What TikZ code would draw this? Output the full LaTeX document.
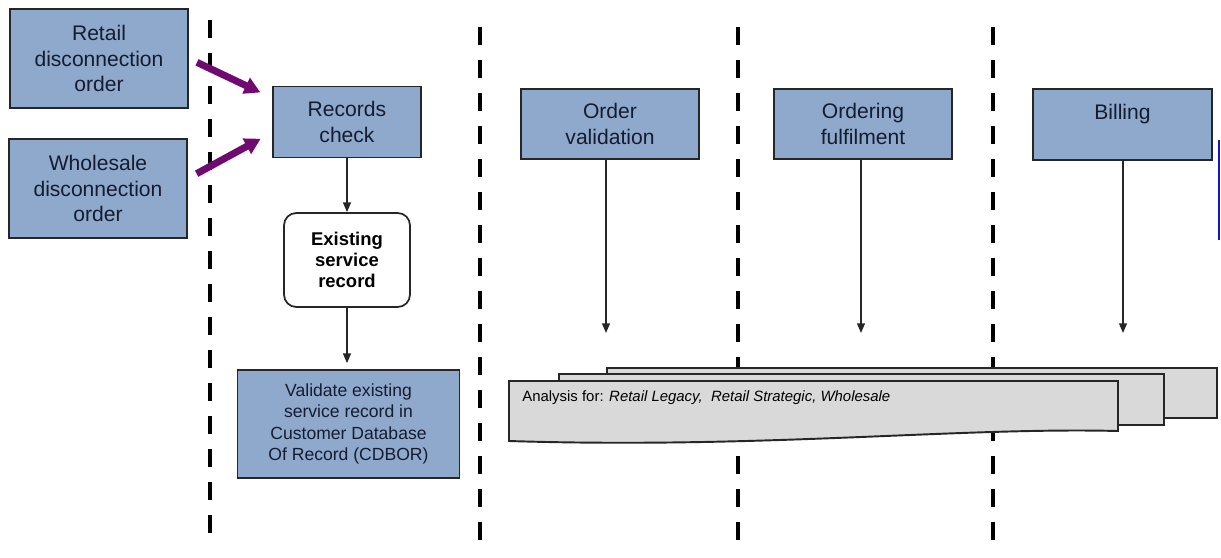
\documentclass[tikz,border=0pt]{standalone}
\usepackage{fontspec}
\setmainfont{Liberation Sans}
\usetikzlibrary{arrows.meta,positioning}
\definecolor{boxblue}{RGB}{142,169,203}
\definecolor{boxtext}{RGB}{22,28,48}
\definecolor{docgray}{RGB}{217,217,217}
\definecolor{flowpurple}{RGB}{112,10,112}
\definecolor{edgeblue}{RGB}{20,20,210}
\tikzset{>={Triangle[length=5.5pt,width=4.5pt]},
  stage/.style={draw=black!85, line width=1pt, fill=boxblue, text=boxtext,
    align=center, inner sep=0pt, font=\fontsize{12}{14.6}\selectfont},
  recordbox/.style={draw=black!85, line width=1pt, rounded corners=7pt,
    align=center, inner sep=0pt, font=\fontsize{10.5}{11.8}\selectfont\bfseries},
  flow/.style={->, line width=0.8pt, black!85},
  inflow/.style={-{Triangle[length=9pt,width=9.5pt]}, line width=4pt, flowpurple},
  lane/.style={line width=0.09cm, dash pattern=on 0.37cm off 0.29cm},
  doc/.style={draw=black!85, line width=1.1pt, fill=docgray}}

\begin{document}
\begin{tikzpicture}[x=0.02cm, y=-0.02cm]
  \useasboundingbox (0,0) rectangle (1221,558);

  % swim lanes
  \foreach \x/\ya/\yb in {210/20/545, 480/27/551, 738/27/551, 993/27/551}
    \draw [lane] (\x,\ya) -- (\x,\yb);

  % incoming orders
  \node [stage, minimum width=3.56cm, minimum height=1.98cm] (retail) at (99,58.5)
    {Retail\\disconnection\\order};
  \node [stage, minimum width=3.56cm, minimum height=1.98cm] (wholesale) at (98,188.5)
    {Wholesale\\disconnection\\order};

  % records check column
  \node [stage, minimum width=2.96cm, minimum height=1.42cm] (records) at (347,122)
    {Records\\check};
  \node [recordbox, minimum width=2.52cm, minimum height=1.88cm] (existing) at (347,260)
    {Existing\\service\\record};
  \node [stage, minimum width=4.44cm, minimum height=2.16cm,
    font=\fontsize{10}{12.3}\selectfont] (validate) at (348.5,424)
    {Validate existing\\service record in\\Customer Database\\Of Record (CDBOR)};

  \draw [inflow, shorten <=9*0.02cm, shorten >=13*0.02cm]
    (retail.east) -- ([yshift=0.48cm]records.west);
  \draw [inflow, shorten <=10*0.02cm, shorten >=13*0.02cm]
    ([yshift=0.2cm]wholesale.east) -- ([yshift=-0.21cm]records.west);

  \draw [flow] (records.south) -- (existing.north);
  \draw [flow, shorten >=0.12cm] (existing.south) -- (existing.south |- validate.north);

  % process stages
  \node [stage, minimum width=3.56cm, minimum height=1.40cm] (ordval) at (610,124)
    {Order\\validation};
  \node [stage, minimum width=3.56cm, minimum height=1.40cm] (fulfil) at (863,124)
    {Ordering\\fulfilment};
  \node [stage, minimum width=3.58cm, minimum height=1.42cm] (billing) at (1122.5,124.5)
    {Billing\\~};

  \coordinate (ordvalend) at (606,333);
  \coordinate (fulfilend) at (861,333);
  \coordinate (billingend) at (1123,333);
  \draw [flow] (ordval.south -| ordvalend) -- (ordvalend);
  \draw [flow] (fulfil.south -| fulfilend) -- (fulfilend);
  \draw [flow] (billing.south -| billingend) -- (billingend);

  \draw [edgeblue, line width=1.2pt] (1219,140) -- (1219,240);

  % stacked analysis documents
  \draw [doc] (607,368) rectangle (1217,418);
  \draw [doc] (559,374) rectangle (1164,425);
  \draw [doc] (509,381) -- (1118,381) -- (1118,431)
    .. controls (960,427) and (760,449) .. (509,441) -- cycle;
  \node [anchor=west, inner sep=0pt, font=\fontsize{8.5}{10}\selectfont] (analysis) at (522,398)
    {Analysis for: \textit{Retail Legacy,~ Retail Strategic, Wholesale}};

\end{tikzpicture}
\end{document}
